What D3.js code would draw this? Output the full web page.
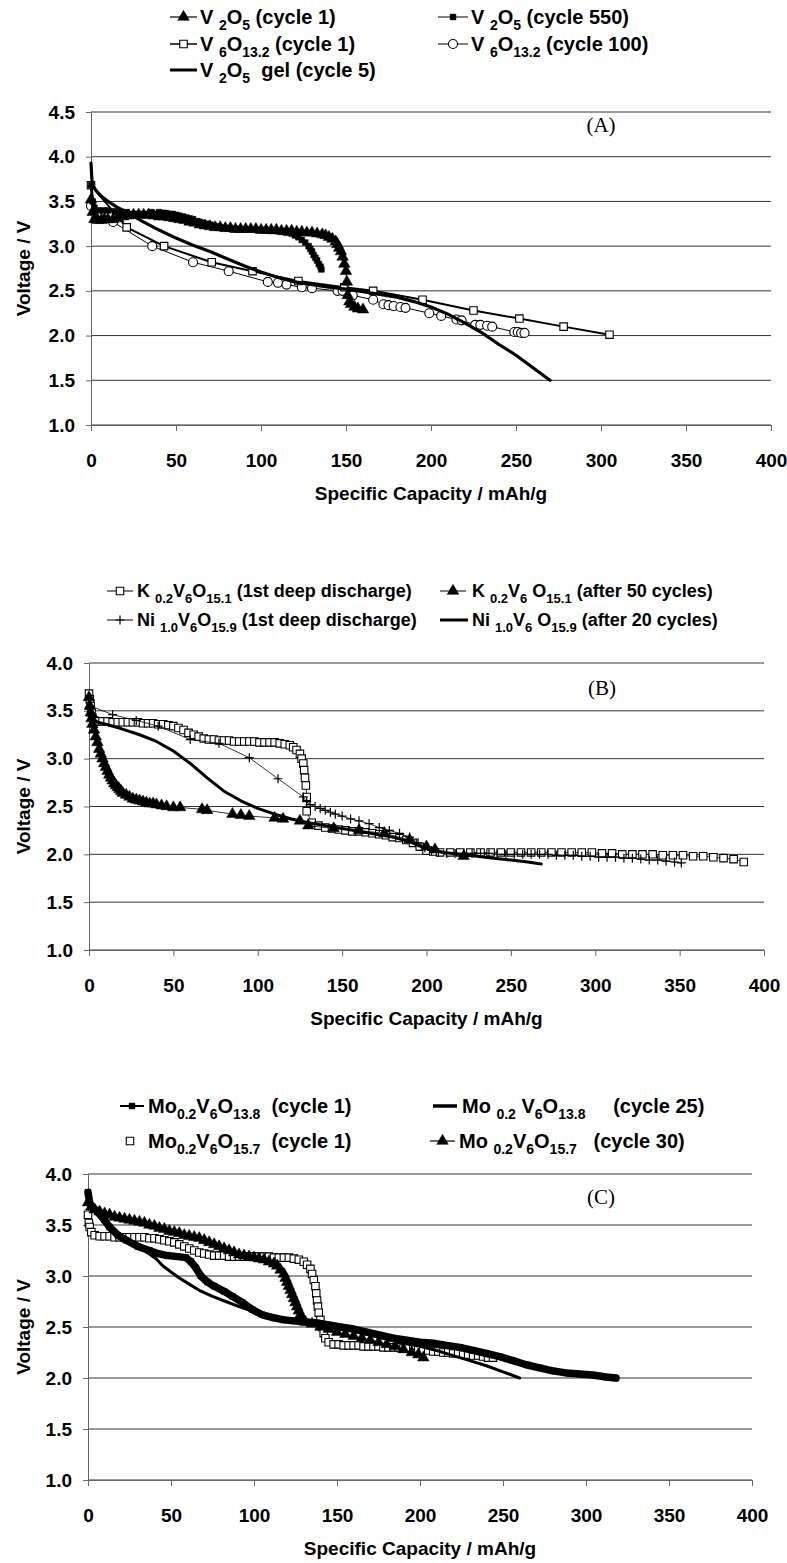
<!DOCTYPE html>
<html>
<head>
<meta charset="utf-8">
<script src="https://cdn.jsdelivr.net/npm/d3@7"></script>
<style>
  body { margin: 0; background: #fff; }
  svg { display: block; background: #fff; }
  .axis text { font-family: "Liberation Sans", Arial, sans-serif; font-weight: bold; font-size: 19px; fill: #000; }
  .axis path, .axis line { stroke: #666; }
  .title { font-family: "Liberation Sans", Arial, sans-serif; font-weight: bold; font-size: 19px; fill: #000; }
  .legend { font-family: "Liberation Sans", Arial, sans-serif; font-weight: bold; fill: #000; white-space: pre; }
  .tag { font-family: "Liberation Serif", "Times New Roman", serif; font-size: 21px; fill: #000; }
</style>
</head>
<body>
<div id="chart"></div>
<script>
(function(){

// Tick labels

let xTicks = [0, 50, 100, 150, 200, 250, 300, 350, 400]
let yTicksA = [1.0, 1.5, 2.0, 2.5, 3.0, 3.5, 4.0, 4.5]
let yTicksBC = [1.0, 1.5, 2.0, 2.5, 3.0, 3.5, 4.0]

// Panel A data  [capacity mAh/g, voltage V]

let v2o5Cycle1 = [[0,3.52],[1,3.38],[2,3.3],[4,3.29],[6,3.29],[8,3.3],[10,3.3],[13,3.3],[16,3.31],[19,3.33],[22,3.34],[25,3.35],[28,3.35],[31,3.35],[34,3.35],[37,3.34],[40,3.33],[43,3.33],[46,3.32],[49,3.31],[52,3.3],[55,3.29],[58,3.27],[61,3.26],[64,3.24],[67,3.23],[70,3.22],[73,3.21],[76,3.21],[79,3.2],[82,3.2],[85,3.19],[88,3.19],[91,3.19],[94,3.19],[97,3.19],[100,3.18],[103,3.18],[106,3.18],[109,3.18],[112,3.17],[115,3.17],[118,3.17],[121,3.16],[124,3.16],[127,3.15],[130,3.15],[133,3.14],[136,3.13],[138,3.12],[140,3.1],[142,3.08],[144,3.05],[145,3.02],[146,2.98],[147,2.94],[148,2.88],[149,2.8],[150,2.72],[150.5,2.6],[151,2.45],[152,2.38],[153,2.35],[155,2.32],[157,2.3],[160,2.29]]
let v2o5Cycle550 = [[0,3.68],[1,3.5],[2,3.43],[4,3.4],[7,3.4],[10,3.4],[14,3.39],[18,3.38],[21,3.38],[35,3.38],[40,3.38],[42,3.37],[44,3.37],[46,3.36],[48,3.36],[50,3.35],[52,3.34],[54,3.33],[56,3.32],[58,3.31],[60,3.3],[62,3.28],[64,3.27],[66,3.26],[68,3.25],[70,3.24],[72,3.23],[74,3.22],[76,3.21],[78,3.2],[80,3.2],[82,3.2],[84,3.19],[86,3.19],[89,3.19],[100,3.18],[103,3.18],[106,3.17],[109,3.17],[112,3.16],[115,3.15],[118,3.14],[120,3.12],[122,3.1],[124,3.07],[126,3.04],[128,3.0],[129,2.97],[130,2.94],[131,2.9],[132,2.87],[133,2.84],[134,2.8],[135,2.77],[135.5,2.74]]
let v6o13Cycle1 = [[0,3.68],[21,3.21],[43,3.0],[71,2.82],[95,2.72],[122,2.61],[149,2.54],[166,2.5],[195,2.4],[225,2.28],[252,2.19],[278,2.1],[305,2.01]]
let v6o13Cycle100 = [[0,3.45],[13,3.27],[36,3.0],[60,2.82],[81,2.72],[104,2.6],[110,2.59],[115,2.57],[124,2.54],[130,2.53],[145,2.5],[148,2.5],[154,2.45],[166,2.4],[172,2.35],[175,2.34],[178,2.33],[182,2.32],[185,2.31],[199,2.25],[206,2.22],[215,2.18],[218,2.17],[226,2.12],[229,2.12],[233,2.11],[236,2.1],[249,2.04],[251,2.04],[253,2.03],[255,2.03]]
let v2o5GelCycle5 = [[0,3.93],[0.5,3.75],[1,3.68],[3,3.62],[6,3.56],[10,3.5],[15,3.44],[21,3.38],[30,3.28],[40,3.18],[50,3.09],[60,3.01],[70,2.94],[80,2.86],[90,2.78],[100,2.71],[110,2.65],[120,2.6],[130,2.57],[140,2.54],[150,2.52],[160,2.49],[170,2.46],[180,2.43],[190,2.38],[200,2.32],[210,2.24],[220,2.14],[230,2.03],[240,1.9],[250,1.78],[260,1.64],[270,1.5]]

// Panel B data

let k02FirstDeep = [[0,3.68],[0.5,3.62],[1,3.55],[1.5,3.48],[2,3.43],[3,3.4],[5,3.39],[8,3.39],[11,3.39],[14,3.38],[17,3.38],[20,3.38],[23,3.38],[26,3.38],[29,3.38],[32,3.37],[35,3.37],[38,3.37],[41,3.36],[44,3.36],[47,3.35],[50,3.34],[53,3.32],[56,3.3],[59,3.27],[62,3.25],[65,3.23],[68,3.21],[71,3.2],[74,3.2],[77,3.19],[80,3.19],[83,3.19],[86,3.18],[89,3.18],[92,3.18],[95,3.18],[98,3.18],[101,3.17],[104,3.17],[107,3.17],[110,3.17],[113,3.16],[116,3.15],[119,3.14],[121,3.12],[123,3.09],[125,3.05],[126,3.0],[127,2.95],[127.5,2.88],[128,2.8],[128.5,2.72],[129,2.6],[129,2.45],[132,2.33],[136,2.3],[140,2.28],[144,2.27],[148,2.26],[152,2.25],[156,2.24],[160,2.24],[164,2.23],[168,2.22],[172,2.21],[176,2.2],[180,2.18],[184,2.17],[188,2.15],[192,2.12],[196,2.08],[200,2.04],[204,2.03],[208,2.02],[214,2.02],[220,2.02],[226,2.02],[232,2.02],[238,2.02],[244,2.02],[250,2.02],[256,2.02],[262,2.02],[268,2.02],[274,2.02],[280,2.02],[286,2.02],[292,2.02],[298,2.02],[304,2.01],[310,2.01],[316,2.0],[322,2.0],[328,2.0],[334,2.0],[340,1.99],[346,1.99],[352,1.99],[358,1.98],[364,1.98],[370,1.97],[376,1.96],[382,1.95],[388,1.92]]
let k02After50 = [[0,3.64],[0.5,3.55],[1,3.48],[1.5,3.42],[2,3.36],[3,3.3],[4,3.23],[5,3.17],[6,3.1],[7,3.05],[8,3.0],[9,2.95],[10,2.91],[11,2.87],[12,2.83],[13,2.8],[14,2.77],[15,2.74],[16,2.72],[17,2.7],[18,2.68],[19,2.66],[20,2.64],[22,2.62],[24,2.6],[26,2.58],[28,2.57],[30,2.56],[32,2.55],[34,2.54],[36,2.53],[38,2.53],[40,2.52],[43,2.51],[46,2.5],[50,2.49],[54,2.49],[67,2.47],[70,2.46],[85,2.42],[90,2.41],[95,2.4],[110,2.38],[115,2.37],[125,2.35],[130,2.3],[145,2.27],[160,2.25],[175,2.22],[190,2.15],[200,2.08],[205,2.05],[222,1.98]]
let ni10FirstDeep = [[0,3.62],[1,3.55],[14,3.46],[28,3.4],[41,3.34],[60,3.2],[77,3.16],[95,3.01],[112,2.79],[127,2.6],[129,2.55],[131,2.52],[134,2.5],[137,2.48],[140,2.46],[143,2.44],[146,2.42],[150,2.4],[155,2.37],[160,2.35],[166,2.32],[172,2.28],[178,2.25],[184,2.22],[190,2.18],[195,2.12],[199,2.07],[203,2.04],[207,2.02],[212,2.01],[217,2.01],[222,2.01],[227,2.01],[232,2.01],[237,2.01],[242,2.0],[247,2.0],[252,2.0],[257,2.0],[262,2.0],[267,2.0],[272,2.0],[277,1.99],[282,1.99],[287,1.99],[292,1.98],[297,1.98],[302,1.97],[307,1.97],[312,1.97],[317,1.96],[322,1.96],[327,1.95],[332,1.94],[337,1.94],[342,1.93],[347,1.92],[351,1.91]]
let ni10After20 = [[0,3.55],[2,3.42],[5,3.38],[10,3.36],[18,3.32],[30,3.25],[40,3.18],[50,3.08],[60,2.95],[70,2.8],[80,2.66],[90,2.56],[100,2.48],[110,2.42],[120,2.37],[130,2.33],[140,2.3],[150,2.27],[160,2.24],[170,2.21],[180,2.18],[190,2.13],[200,2.06],[210,2.02],[220,2.0],[230,1.98],[240,1.96],[250,1.94],[260,1.92],[268,1.9]]

// Panel C data

let mo138Cycle1 = [[0,3.82],[1,3.72],[3,3.67],[7,3.62],[10,3.55],[13,3.48],[18,3.4],[23,3.35],[30,3.29],[37,3.25],[42,3.22],[48,3.2],[54,3.19],[59,3.18],[62,3.14],[65,3.08],[68,3.0],[72,2.94],[76,2.9],[82,2.85],[87,2.8],[93,2.74],[99,2.67],[105,2.62],[112,2.59],[118,2.57],[124,2.56],[131,2.55],[138,2.54],[145,2.52],[152,2.5],[160,2.48],[168,2.45],[176,2.42],[184,2.39],[192,2.37],[200,2.35],[208,2.34],[216,2.32],[224,2.3],[232,2.27],[240,2.24],[248,2.21],[256,2.17],[264,2.13],[272,2.1],[280,2.07],[288,2.05],[296,2.04],[304,2.03],[312,2.01],[318,2.0]]
let mo138Cycle25 = [[0,3.75],[3,3.65],[8,3.55],[13,3.45],[20,3.38],[27,3.32],[34,3.25],[41,3.17],[45,3.1],[50,3.04],[55,2.98],[60,2.93],[67,2.86],[75,2.8],[83,2.75],[91,2.7],[98,2.66],[104,2.63],[112,2.6],[120,2.58],[130,2.56],[140,2.54],[150,2.5],[160,2.46],[170,2.42],[180,2.38],[190,2.34],[200,2.31],[210,2.27],[220,2.22],[230,2.17],[240,2.12],[250,2.06],[260,2.0]]
let mo157Cycle1 = [[0,3.6],[0.5,3.52],[1,3.48],[2,3.43],[4,3.4],[7,3.39],[10,3.39],[13,3.39],[16,3.38],[19,3.38],[22,3.38],[25,3.38],[28,3.38],[31,3.38],[34,3.38],[37,3.37],[40,3.37],[43,3.36],[46,3.35],[49,3.34],[52,3.33],[55,3.31],[58,3.29],[61,3.27],[64,3.25],[67,3.23],[70,3.22],[73,3.21],[76,3.2],[79,3.2],[82,3.2],[85,3.19],[88,3.19],[91,3.19],[94,3.19],[97,3.19],[100,3.19],[103,3.19],[106,3.19],[109,3.19],[112,3.18],[115,3.18],[118,3.18],[121,3.18],[124,3.17],[127,3.16],[130,3.14],[132,3.11],[134,3.07],[135,3.02],[136,2.96],[137,2.9],[137.5,2.83],[138,2.76],[138.5,2.7],[139,2.64],[140,2.57],[141,2.5],[142,2.44],[143,2.39],[145,2.35],[148,2.33],[151,2.33],[154,2.32],[157,2.32],[160,2.32],[163,2.32],[166,2.31],[169,2.31],[172,2.31],[175,2.31],[178,2.3],[181,2.3],[184,2.3],[187,2.3],[190,2.29],[193,2.29],[196,2.28],[199,2.28],[202,2.27],[205,2.27],[208,2.26],[211,2.26],[214,2.25],[217,2.25],[220,2.24],[223,2.24],[226,2.23],[229,2.23],[232,2.22],[235,2.22],[238,2.21],[241,2.2],[244,2.2]]
let mo157Cycle30 = [[0,3.72],[2,3.68],[4,3.65],[7,3.63],[10,3.61],[13,3.6],[16,3.58],[19,3.57],[22,3.56],[25,3.55],[28,3.54],[31,3.53],[34,3.52],[37,3.5],[40,3.49],[43,3.47],[46,3.46],[49,3.44],[52,3.43],[55,3.42],[58,3.4],[61,3.39],[64,3.38],[67,3.37],[70,3.35],[73,3.33],[76,3.31],[79,3.29],[82,3.27],[85,3.25],[88,3.23],[91,3.21],[94,3.2],[97,3.19],[100,3.18],[103,3.17],[106,3.16],[109,3.14],[112,3.12],[114,3.1],[116,3.06],[118,3.02],[119,2.98],[120,2.94],[121,2.9],[122,2.86],[123,2.82],[124,2.78],[125,2.74],[126,2.7],[127,2.66],[128,2.62],[129,2.58],[131,2.55],[135,2.53],[140,2.5],[145,2.48],[150,2.45],[155,2.43],[160,2.41],[165,2.39],[170,2.37],[175,2.35],[180,2.33],[185,2.31],[190,2.28],[195,2.25],[199,2.23],[202,2.2]]

// Create SVG

let svg = d3.select('#chart')
  .append('svg')
  .attr('width', 787)
  .attr('height', 1563)

// Marker shapes

function markerPath(type) {
  if (type === 'triangle') return d3.symbol().type(d3.symbolTriangle).size(58)()
  if (type === 'square' || type === 'squareOpen') return d3.symbol().type(d3.symbolSquare).size(56)()
  if (type === 'squareSmall') return d3.symbol().type(d3.symbolSquare).size(34)()
  if (type === 'plus') return 'M-4.5,0H4.5M0,-4.5V4.5'
  return null
}

function addMarkers(g, data, x, y, type) {
  if (!type) return
  if (type === 'circle') {
    g.append('g').selectAll('circle')
      .data(data)
      .enter().append('circle')
      .attr('cx', function(d){ return x(d[0]) })
      .attr('cy', function(d){ return y(d[1]) })
      .attr('r', 4.5)
      .attr('fill', 'white')
      .attr('stroke', 'black')
      .attr('stroke-width', 1.1)
    return
  }
  let open = (type === 'squareOpen')
  g.append('g').selectAll('path')
    .data(data)
    .enter().append('path')
    .attr('d', markerPath(type))
    .attr('transform', function(d){ return 'translate(' + x(d[0]) + ',' + y(d[1]) + ')' })
    .attr('fill', open ? 'white' : (type === 'plus' ? 'none' : 'black'))
    .attr('stroke', 'black')
    .attr('stroke-width', open ? 1.1 : (type === 'plus' ? 1.2 : 0.5))
}

// Legend text with subscripts

function legendText(g, px, py, parts, size) {
  let t = g.append('text')
    .attr('class', 'legend')
    .attr('x', px)
    .attr('y', py + size * 0.36)
    .style('font-size', size + 'px')
  let down = false
  parts.forEach(function(p){
    let s = t.append('tspan').text(p[0])
    if (p[1] && !down) { s.attr('dy', size * 0.3); down = true }
    if (!p[1] && down) { s.attr('dy', -size * 0.3); down = false }
    if (p[1]) s.style('font-size', Math.round(size * 0.7) + 'px')
  })
}

function legendEntry(g, e, size) {
  if (e.line) {
    g.append('line')
      .attr('x1', e.x1).attr('x2', e.x2)
      .attr('y1', e.y).attr('y2', e.y)
      .attr('stroke', 'black')
      .attr('stroke-width', e.line)
  }
  let mx = d3.scaleLinear().domain([0, 1]).range([e.x1, e.x2])
  let my = d3.scaleLinear().domain([0, 1]).range([e.y, e.y])
  addMarkers(g, [[0.5, 0]], mx, my, e.marker)
  legendText(g, e.tx, e.y, e.parts, size)
}

// Panel

function drawPanel(p) {
  let g = svg.append('g')
  let x = d3.scaleLinear().domain([0, 400]).range([p.left, p.right])
  let y = d3.scaleLinear().domain([1, p.yMax]).range([p.bottom, p.top])

  // grid lines
  g.append('g').selectAll('line')
    .data(p.yTicks)
    .enter().append('line')
    .attr('x1', p.left)
    .attr('x2', p.right)
    .attr('y1', function(d){ return y(d) })
    .attr('y2', function(d){ return y(d) })
    .attr('stroke', '#333')
    .attr('stroke-width', 1)

  let yAxis = d3.axisLeft(y).tickValues(p.yTicks).tickFormat(d3.format('.1f')).tickSize(5).tickSizeOuter(0).tickPadding(11)
  g.append('g')
    .attr('class', 'axis')
    .attr('transform', 'translate(' + p.left + ',0)')
    .call(yAxis)

  let xAxis = d3.axisBottom(x).tickValues(xTicks).tickSize(6).tickSizeOuter(0).tickPadding(23)
  g.append('g')
    .attr('class', 'axis')
    .attr('transform', 'translate(0,' + p.bottom + ')')
    .call(xAxis)

  g.append('text')
    .attr('class', 'title')
    .attr('transform', 'translate(23,' + (p.top + p.bottom) / 2 + ') rotate(-90)')
    .attr('text-anchor', 'middle')
    .attr('dy', '0.36em')
    .text('Voltage / V')

  g.append('text')
    .attr('class', 'title')
    .attr('x', (p.left + p.right) / 2)
    .attr('y', p.bottom + 68)
    .attr('text-anchor', 'middle')
    .attr('dy', '0.36em')
    .text('Specific Capacity / mAh/g')

  g.append('text')
    .attr('class', 'tag')
    .attr('x', p.tagX)
    .attr('y', p.tagY)
    .attr('text-anchor', 'middle')
    .attr('dy', '0.35em')
    .text(p.tag)

  let line = d3.line()
    .x(function(d){ return x(d[0]) })
    .y(function(d){ return y(d[1]) })

  p.series.forEach(function(s){
    if (s.line) {
      g.append('path')
        .datum(s.data)
        .attr('d', line)
        .attr('fill', 'none')
        .attr('stroke', 'black')
        .attr('stroke-width', s.line)
        .attr('stroke-linejoin', 'round')
        .attr('stroke-linecap', 'round')
    }
    addMarkers(g, s.data, x, y, s.marker)
  })

  p.legend.forEach(function(e){ legendEntry(g, e, p.legendSize) })
}

// Chart A

drawPanel({
  top: 112, bottom: 425, left: 91, right: 771, yMax: 4.5, yTicks: yTicksA,
  tag: '(A)', tagX: 601, tagY: 125, legendSize: 20,
  series: [
    { data: v6o13Cycle100, line: 1, marker: 'circle' },
    { data: v6o13Cycle1, line: 2, marker: 'squareOpen' },
    { data: v2o5GelCycle5, line: 3.2 },
    { data: v2o5Cycle550, line: 3, marker: 'squareSmall' },
    { data: v2o5Cycle1, line: 1, marker: 'triangle' }
  ],
  legend: [
    { x1: 170, x2: 197, y: 17, tx: 200, line: 1.2, marker: 'triangle', parts: [['V ',0],['2',1],['O',0],['5',1],[' (cycle 1)',0]] },
    { x1: 438, x2: 468, y: 17, tx: 471, line: 1, marker: 'squareSmall', parts: [['V ',0],['2',1],['O',0],['5',1],[' (cycle 550)',0]] },
    { x1: 170, x2: 197, y: 44, tx: 200, line: 1.5, marker: 'squareOpen', parts: [['V ',0],['6',1],['O',0],['13.2',1],[' (cycle 1)',0]] },
    { x1: 438, x2: 468, y: 44, tx: 471, line: 1, marker: 'circle', parts: [['V ',0],['6',1],['O',0],['13.2',1],[' (cycle 100)',0]] },
    { x1: 170, x2: 197, y: 70, tx: 200, line: 3, parts: [['V ',0],['2',1],['O',0],['5',1],['  gel (cycle 5)',0]] }
  ]
})

// Chart B

drawPanel({
  top: 663, bottom: 950, left: 89, right: 764, yMax: 4, yTicks: yTicksBC,
  tag: '(B)', tagX: 602, tagY: 688, legendSize: 18,
  series: [
    { data: k02FirstDeep, line: 0.8, marker: 'squareOpen' },
    { data: ni10FirstDeep, line: 0.8, marker: 'plus' },
    { data: ni10After20, line: 3 },
    { data: k02After50, line: 0.8, marker: 'triangle' }
  ],
  legend: [
    { x1: 107, x2: 133, y: 591, tx: 137, line: 1, marker: 'squareOpen', parts: [['K ',0],['0.2',1],['V',0],['6',1],['O',0],['15.1',1],[' (1st deep discharge)',0]] },
    { x1: 440, x2: 466, y: 591, tx: 472, line: 1, marker: 'triangle', parts: [['K ',0],['0.2',1],['V',0],['6',1],[' O',0],['15.1',1],[' (after 50 cycles)',0]] },
    { x1: 107, x2: 133, y: 620, tx: 137, line: 1, marker: 'plus', parts: [['Ni ',0],['1.0',1],['V',0],['6',1],['O',0],['15.9',1],[' (1st deep discharge)',0]] },
    { x1: 440, x2: 468, y: 620, tx: 472, line: 3, parts: [['Ni ',0],['1.0',1],['V',0],['6',1],[' O',0],['15.9',1],[' (after 20 cycles)',0]] }
  ]
})

// Chart C

drawPanel({
  top: 1174, bottom: 1480, left: 88, right: 752, yMax: 4, yTicks: yTicksBC,
  tag: '(C)', tagX: 601, tagY: 1197, legendSize: 20,
  series: [
    { data: mo157Cycle1, marker: 'squareOpen' },
    { data: mo138Cycle25, line: 3 },
    { data: mo138Cycle1, line: 7.5, marker: 'squareSmall' },
    { data: mo157Cycle30, line: 0.8, marker: 'triangle' }
  ],
  legend: [
    { x1: 120, x2: 144, y: 1106, tx: 148, line: 2, marker: 'squareSmall', parts: [['Mo',0],['0.2',1],['V',0],['6',1],['O',0],['13.8',1],['  (cycle 1)',0]] },
    { x1: 433, x2: 457, y: 1106, tx: 462, line: 3.5, parts: [['Mo ',0],['0.2',1],[' V',0],['6',1],['O',0],['13.8',1],['     (cycle 25)',0]] },
    { x1: 125, x2: 135, y: 1141, tx: 148, marker: 'squareOpen', parts: [['Mo',0],['0.2',1],['V',0],['6',1],['O',0],['15.7',1],['  (cycle 1)',0]] },
    { x1: 430, x2: 455, y: 1141, tx: 459, line: 1.2, marker: 'triangle', parts: [['Mo ',0],['0.2',1],['V',0],['6',1],['O',0],['15.7',1],['   (cycle 30)',0]] }
  ]
})

})()
</script>
</body>
</html>
